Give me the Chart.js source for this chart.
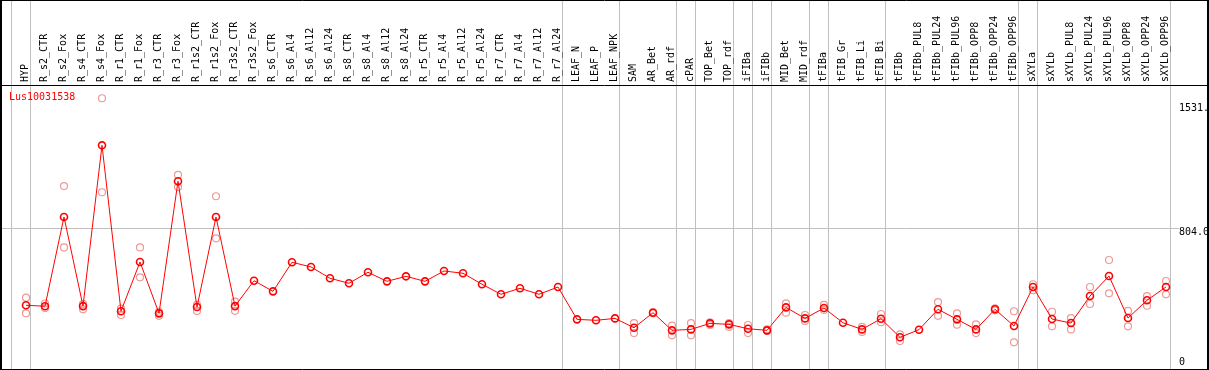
<!DOCTYPE html>
<html lang="en">
<head>
    <meta charset="UTF-8">
    <title>Lus10031538</title>
    <script src="https://cdn.jsdelivr.net/npm/chart.js"></script>
    <style>
        html, body { margin: 0; padding: 0; background: #fff; }
    </style>
</head>
<body>
<canvas id="exprChart" width="1209" height="370"></canvas>
<script>
    const geneName = 'Lus10031538';

    const samples = [
        'HYP',
        'R_s2_CTR', 'R_s2_Fox', 'R_s4_CTR', 'R_s4_Fox', 'R_r1_CTR', 'R_r1_Fox', 'R_r3_CTR', 'R_r3_Fox',
        'R_r1s2_CTR', 'R_r1s2_Fox', 'R_r3s2_CTR', 'R_r3s2_Fox',
        'R_s6_CTR', 'R_s6_Al4', 'R_s6_Al12', 'R_s6_Al24', 'R_s8_CTR', 'R_s8_Al4', 'R_s8_Al12', 'R_s8_Al24',
        'R_r5_CTR', 'R_r5_Al4', 'R_r5_Al12', 'R_r5_Al24', 'R_r7_CTR', 'R_r7_Al4', 'R_r7_Al12', 'R_r7_Al24',
        'LEAF_N', 'LEAF_P', 'LEAF_NPK',
        'SAM', 'AR_Bet', 'AR_rdf', 'cPAR', 'TOP_Bet', 'TOP_rdf', 'iFIBa', 'iFIBb', 'MID_Bet', 'MID_rdf',
        'tFIBa', 'tFIB_Gr', 'tFIB_Li', 'tFIB_Bi',
        'tFIBb', 'tFIBb_PUL8', 'tFIBb_PUL24', 'tFIBb_PUL96', 'tFIBb_OPP8', 'tFIBb_OPP24', 'tFIBb_OPP96',
        'sXYLa',
        'sXYLb', 'sXYLb_PUL8', 'sXYLb_PUL24', 'sXYLb_PUL96', 'sXYLb_OPP8', 'sXYLb_OPP24', 'sXYLb_OPP96'
    ];

    // srednie (linia)
    const meanValues = [
        328,
        322, 874, 323, 1317, 291, 596, 278, 1095,
        317, 874, 323, 480,
        414, 594, 565, 495, 464, 532, 476, 507,
        476, 540, 526, 458, 396, 433, 396, 441,
        241, 235, 247,
        189, 282, 173, 179, 216, 210, 183, 173, 315, 247,
        311, 220, 179, 245,
        130, 177, 303, 241, 179, 303, 200,
        441,
        243, 218, 385, 509, 249, 359, 441
    ];

    // powtorzenia
    const rep1Values = [
        375,
        339, 1065, 336, 1608, 307, 686, 288, 1134,
        330, 1002, 350, null,
        null, null, null, null, null, null, null, null,
        null, null, null, null, null, null, null, null,
        null, null, null,
        218, 286, 202, 218, 223, 218, 206, 179, 340, 268,
        330, null, 195, 274,
        148, null, 348, 278, 210, 309, 291,
        458,
        288, 249, 441, 608, 293, 385, 478
    ];

    const rep2Values = [
        278,
        311, 686, 303, 1027, 268, 501, 263, 1059,
        293, 742, 294, null,
        null, null, null, null, null, null, null, null,
        null, null, null, null, null, null, null, null,
        null, null, null,
        156, 278, 142, 142, 206, 194, 156, 169, 282, 231,
        299, null, 163, 223,
        107, null, 263, 208, 156, 297, 99,
        421,
        198, 179, 336, 402, 198, 325, 396
    ];

    const yTickValues = [0, 804, 1531];
    const yTickLabels = ['0', '804.0', '1531.'];

    // indeksy probek po ktorych jest linia grupy
    const groupEnds = [-1, 0, 28, 31, 34, 35, 37, 38, 39, 41, 42, 45, 52, 53, 60];

    const toPoints = arr => arr.map((v, i) => ({x: i, y: v}));

    const noPadding = scale => {
        scale.paddingLeft = 0;
        scale.paddingRight = 0;
        scale.paddingTop = 0;
        scale.paddingBottom = 0;
    };

    const frame = {
        id: 'frame',
        beforeDraw(chart) {
            const c = chart.ctx;
            const xs = chart.scales.x;
            c.save();
            c.strokeStyle = '#c0c0c0';
            c.lineWidth = 1;
            groupEnds.forEach(i => {
                const px = Math.round(xs.getPixelForValue(i + 0.23)) + 0.5;
                c.beginPath();
                c.moveTo(px, 0);
                c.lineTo(px, chart.chartArea.bottom);
                c.stroke();
            });
            c.restore();
        },
        afterDraw(chart) {
            const c = chart.ctx;
            const a = chart.chartArea;
            c.save();
            c.strokeStyle = '#000';
            c.lineWidth = 1;
            c.beginPath();
            c.moveTo(0, 0.5); c.lineTo(chart.width, 0.5);
            c.moveTo(0, a.top + 0.5); c.lineTo(chart.width, a.top + 0.5);
            c.moveTo(0, a.bottom + 0.5); c.lineTo(chart.width, a.bottom + 0.5);
            c.stroke();
            c.lineWidth = 2;
            c.beginPath();
            c.moveTo(1, 0); c.lineTo(1, chart.height);
            c.moveTo(a.right + 1, 0); c.lineTo(a.right + 1, chart.height);
            c.stroke();
            c.fillStyle = '#ff0000';
            c.font = '10px "DejaVu Sans Mono"';
            c.textBaseline = 'middle';
            c.fillText(geneName, a.left + 8, a.top + 12);
            c.restore();
        }
    };

    const ctx = document.getElementById('exprChart').getContext('2d');
    new Chart(ctx, {
        type: 'line',
        data: {
            datasets: [
                {
                    label: 'mean',
                    data: toPoints(meanValues),
                    borderColor: '#ff0000',
                    borderWidth: 1,
                    pointRadius: 3.5,
                    pointBorderWidth: 1.6,
                    pointBorderColor: '#ff0000',
                    pointBackgroundColor: 'rgba(0,0,0,0)',
                    tension: 0
                },
                {
                    label: 'rep1',
                    data: toPoints(rep1Values),
                    showLine: false,
                    pointRadius: 3.5,
                    pointBorderWidth: 1.2,
                    pointBorderColor: '#f09898',
                    pointBackgroundColor: 'rgba(0,0,0,0)'
                },
                {
                    label: 'rep2',
                    data: toPoints(rep2Values),
                    showLine: false,
                    pointRadius: 3.5,
                    pointBorderWidth: 1.2,
                    pointBorderColor: '#f09898',
                    pointBackgroundColor: 'rgba(0,0,0,0)'
                }
            ]
        },
        options: {
            responsive: false,
            animation: false,
            layout: {autoPadding: false, padding: {left: 1, right: 0, top: 0, bottom: 1}},
            plugins: {
                legend: {display: false},
                tooltip: {enabled: false}
            },
            scales: {
                x: {
                    type: 'linear',
                    position: 'top',
                    min: -1.316,
                    max: 62.158,
                    afterBuildTicks: scale => {
                        scale.ticks = samples.map((s, i) => ({value: i}));
                    },
                    afterFit: scale => {
                        scale.height = 85;
                        noPadding(scale);
                    },
                    grid: {display: false, drawTicks: false},
                    border: {display: false},
                    ticks: {
                        autoSkip: false,
                        minRotation: 90,
                        maxRotation: 90,
                        padding: 3,
                        labelOffset: 11,
                        color: '#000',
                        font: {family: 'DejaVu Sans Mono', size: 10},
                        callback: v => samples[v]
                    }
                },
                y: {
                    type: 'linear',
                    position: 'right',
                    min: -66,
                    max: 1690,
                    afterBuildTicks: scale => {
                        scale.ticks = yTickValues.map(v => ({value: v}));
                    },
                    afterFit: scale => {
                        scale.width = 2;
                        noPadding(scale);
                    },
                    grid: {
                        drawTicks: false,
                        color: c => (c.tick && c.tick.value === 804) ? '#c0c0c0' : 'rgba(0,0,0,0)'
                    },
                    border: {display: false},
                    ticks: {
                        mirror: true,
                        crossAlign: 'far',
                        padding: 2,
                        labelOffset: 4,
                        color: '#000',
                        font: {family: 'DejaVu Sans Mono', size: 10},
                        showLabelBackdrop: c => c.tick.value === 804,
                        backdropColor: '#fff',
                        backdropPadding: 0,
                        callback: v => {
                            const lbl = yTickLabels[yTickValues.indexOf(v)];
                            return v === 1531 ? [lbl, ''] : lbl;
                        }
                    }
                }
            }
        },
        plugins: [frame]
    });
</script>
</body>
</html>
